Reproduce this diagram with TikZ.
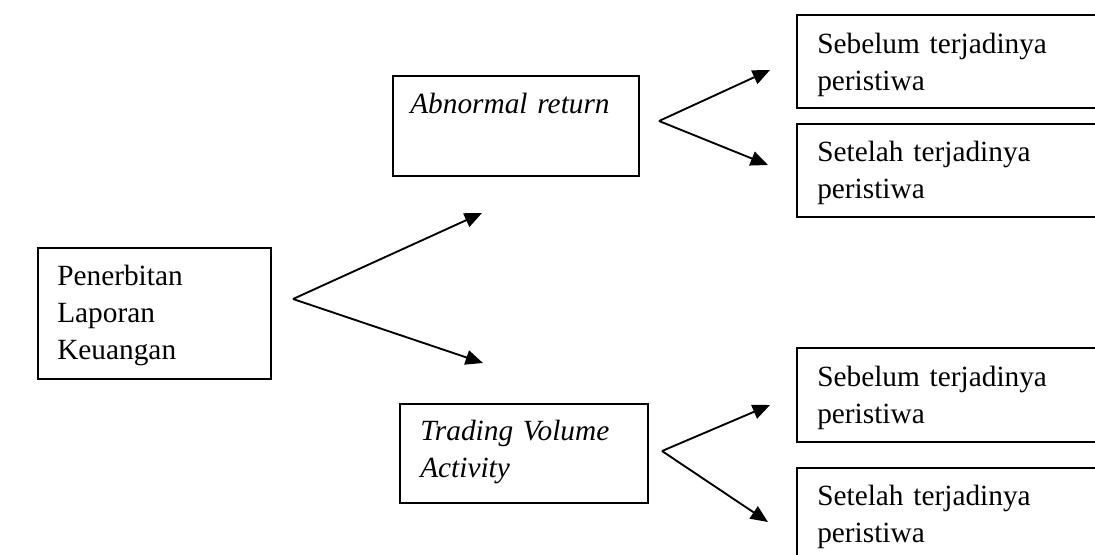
\documentclass[tikz,border=0pt]{standalone}
\usepackage{fontspec}
\setmainfont{Liberation Serif}
\usetikzlibrary{arrows.meta}
\begin{document}
\begin{tikzpicture}[x=0.75pt,y=-0.75pt,
  box/.style={draw, line width=1.3pt, inner sep=0pt, anchor=north west},
  txt/.style={inner sep=0pt, anchor=base west, font=\fontsize{22}{27.75}\selectfont, text width=260pt, align=left},
  itxt/.style={txt, font=\fontsize{22}{27.75}\selectfont\itshape},
  arr/.style={line width=1.4pt, -{Triangle[length=13pt,width=11pt]}}]
\useasboundingbox (0,0) rectangle (1095,554);
\clip (0,0) rectangle (1095,554);
% boxes
\node[box, minimum width=174.75pt, minimum height=98.25pt] (lap) at (37,247) {};
\node[box, minimum width=184.5pt, minimum height=75pt] (ab) at (392,75) {};
\node[box, minimum width=186pt, minimum height=74.25pt] (tv) at (399,403) {};
\node[box, minimum width=240pt, minimum height=69.75pt] (s1) at (796,14) {};
\node[box, minimum width=240pt, minimum height=69.75pt] (s2) at (796,123) {};
\node[box, minimum width=240pt, minimum height=70.5pt] (s3) at (796,347) {};
\node[box, minimum width=240pt, minimum height=82.5pt] (s4) at (796,467) {};
% texts
\node[txt] (laptxt) at (57,285) {Penerbitan\\Laporan\\Keuangan};
\node[itxt] (abtxt) at (410,113) {Abnormal return};
\node[itxt] (tvtxt) at (420,440) {Trading Volume\\Activity};
\node[txt] (s1txt) at (817,53) {Sebelum terjadinya\\peristiwa};
\node[txt] (s2txt) at (817,161) {Setelah terjadinya\\peristiwa};
\node[txt] (s3txt) at (817,386) {Sebelum terjadinya\\peristiwa};
\node[txt] (s4txt) at (817,505) {Setelah terjadinya\\peristiwa};
% fork points
\coordinate (fA) at (293,299);
\coordinate (tA1) at (482,213);
\coordinate (tA2) at (483,363);
\coordinate (fB) at (659,121);
\coordinate (tB1) at (770,70);
\coordinate (tB2) at (768,165);
\coordinate (fC) at (662,451);
\coordinate (tC1) at (770,405);
\coordinate (tC2) at (768,522);
\draw[arr] (fA) -- (tA1);
\draw[arr] (fA) -- (tA2);
\draw[arr] (fB) -- (tB1);
\draw[arr] (fB) -- (tB2);
\draw[arr] (fC) -- (tC1);
\draw[arr] (fC) -- (tC2);
\end{tikzpicture}
\end{document}
